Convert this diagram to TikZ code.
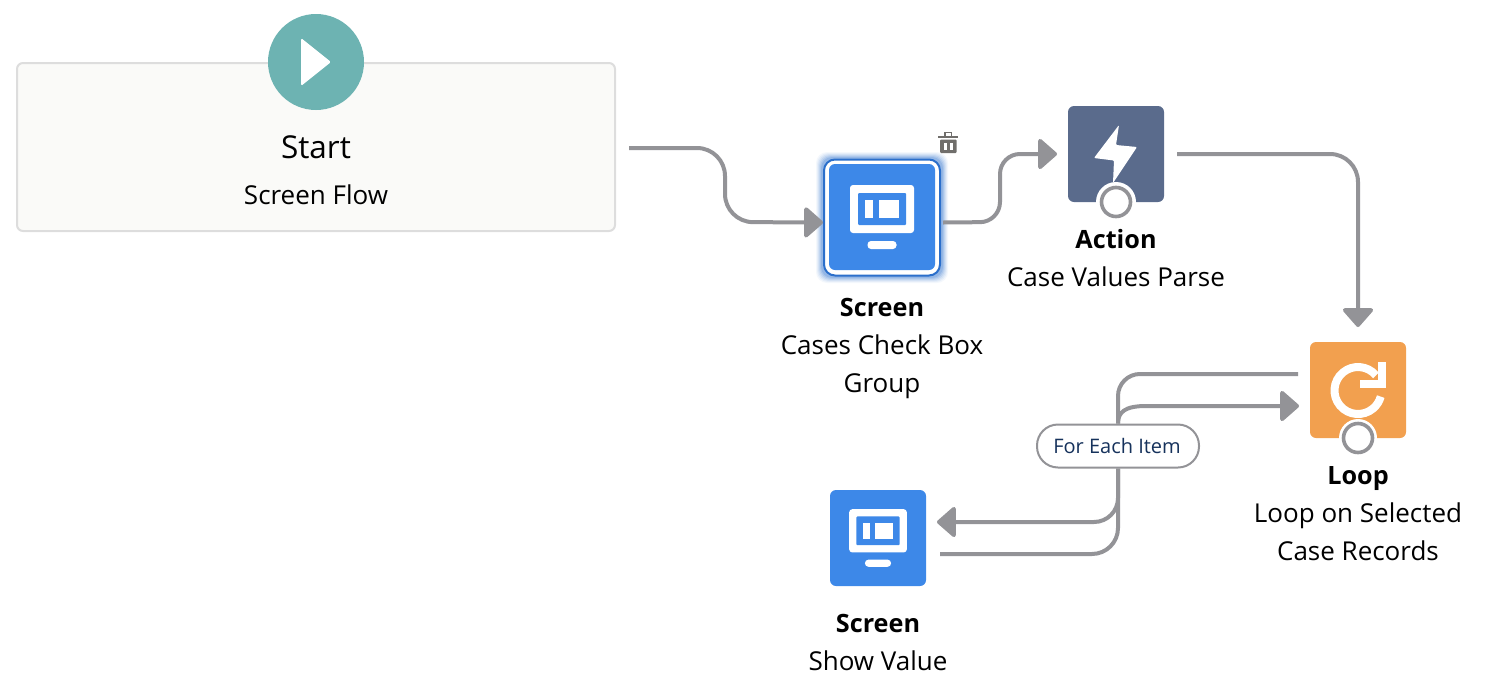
\documentclass[tikz,border=0pt]{standalone}
\usepackage{fontspec}
\setmainfont{Open Sans}
\usetikzlibrary{arrows.meta}
\definecolor{linegray}{HTML}{939397}
\definecolor{bluefill}{HTML}{3D88E8}
\definecolor{blueedge}{HTML}{2B6FCB}
\definecolor{actionfill}{HTML}{5A6B8C}
\definecolor{loopfill}{HTML}{F2A04F}
\definecolor{startfill}{HTML}{6DB3B2}
\definecolor{panelfill}{HTML}{FAFAF8}
\definecolor{panelline}{HTML}{DDDDDD}
\definecolor{trashgray}{HTML}{706E6B}
\definecolor{pilltext}{HTML}{16325C}
\tikzset{
  x=1pt,y=-1pt,
  conn/.style={draw=linegray,line width=4pt},
  tipped/.style={conn,-{Triangle[length=20pt,width=34pt,round=false]}},
  element/.style={minimum width=96pt,minimum height=96pt,inner sep=0pt,outer sep=0pt,rounded corners=6pt},
  title/.style={anchor=base,inner sep=0pt,font=\fontsize{25.2}{25}\selectfont\bfseries,text=black},
  label/.style={anchor=base,inner sep=0pt,font=\fontsize{26}{26}\selectfont,text=black},
  ringnode/.style={circle,draw=linegray,line width=3.6pt,fill=white,minimum size=29pt,inner sep=0pt,outer sep=0pt},
  halo/.style={circle,fill=white,minimum size=40pt,inner sep=0pt,outer sep=0pt},
  pics/screenglyph/.style={code={
    \fill[white,rounded corners=3pt] (-32,-32) rectangle (32,16);
    \fill[bluefill,rounded corners=1pt] (-24,-24) rectangle (24,8);
    \fill[white] (-17,-17) rectangle (-9,1);
    \fill[white] (-3,-17) rectangle (17,1);
    \fill[white,rounded corners=3.5pt] (-14.5,24) rectangle (14.5,32);
  }}
}
\begin{document}
\begin{tikzpicture}
\useasboundingbox (0,0) rectangle (1500,686);
% start
\node[draw=panelline,line width=2pt,fill=panelfill,rounded corners=6pt,minimum width=598pt,minimum height=168pt,inner sep=0pt,outer sep=0pt] (startbox) at (316,147) {};
\node[circle,fill=startfill,minimum size=96pt,inner sep=0pt,outer sep=0pt] (startdot) at (316,62) {};
\fill[white,rounded corners=1.5pt] (301,38) -- (331,62) -- (301,86) -- cycle;
\node[anchor=base,inner sep=0pt,font=\fontsize{31.5}{31}\selectfont] (starttitle) at (316,158) {Start};
\node[label] (startsub) at (316,204) {Screen Flow};
% selected screen
\foreach \g/\o in {7/.05,6/.07,5/.09,4/.11,3/.14,2/.18}{
  \fill[blueedge,opacity=\o,rounded corners=11pt] (823-\g,159-\g) rectangle (941+\g,276+\g);
}
\node[draw=blueedge,line width=2pt,fill=white,minimum width=116pt,minimum height=116pt,inner sep=0pt,outer xsep=1pt,outer ysep=1pt,rounded corners=11pt] (screenone) at (882,217.5) {};
\node[fill=bluefill,minimum width=106pt,minimum height=106pt,inner sep=0pt,rounded corners=6pt] (screenonefill) at (882,217) {};
\pic[scale=1] at (882,217) {screenglyph};
\node[title] (screenonetitle) at (882,316) {Screen};
\node[label] (screenonea) at (882,354) {Cases Check Box};
\node[label] (screenoneb) at (882,392) {Group};
% trash
\fill[trashgray] (938,135.5) rectangle (958,138);
\draw[trashgray,line width=1.4pt] (945,135.5) -- (945,132.7) -- (951.5,132.7) -- (951.5,135.5);
\fill[trashgray,rounded corners=1pt] (940,139.5) rectangle (956.5,153);
\fill[white] (943.5,142.5) rectangle (946.5,150);
\fill[white] (949.5,142.5) rectangle (953,150);
% action
\node[element,fill=actionfill] (action) at (1116,154) {};
\fill[white,rounded corners=1pt] (1119,125) -- (1094,158) -- (1114,160.5) -- (1113,183) -- (1137,147) -- (1116,145) -- cycle;
\node[halo] (actionhalo) at (1116,202) {};
\node[ringnode] (actionring) at (1116,202) {};
\node[title] (actiontitle) at (1116,248) {Action};
\node[label] (actionsub) at (1116,286) {Case Values Parse};
% loop
\node[element,fill=loopfill] (loop) at (1358,390) {};
\draw[white,line width=8pt] (1376,375.4) arc[start angle=40,end angle=345,radius=23.5pt];
\fill[white] (1378,362) rectangle (1386,388);
\fill[white] (1360,380) rectangle (1386,388);
\node[halo,minimum size=38pt] (loophalo) at (1358,438) {};
\node[ringnode] (loopring) at (1358,438) {};
\node[title] (looptitle) at (1358,484) {Loop};
\node[label] (loopa) at (1358,522) {Loop on Selected};
\node[label] (loopb) at (1358,560) {Case Records};
% second screen
\node[element,fill=bluefill] (screentwo) at (878,538) {};
\pic[scale=0.9] at (878,538) {screenglyph};
\node[title] (screentwotitle) at (878,632) {Screen};
\node[label] (screentwosub) at (878,670) {Show Value};
% pill
\node[draw=linegray,line width=2pt,fill=white,rounded corners=21pt,minimum width=162pt,minimum height=43pt,inner sep=0pt,outer sep=1pt] (pill) at (1118,446) {};
\node[anchor=base,inner sep=0pt,text=pilltext,font=\fontsize{20}{20}\selectfont] (pilltextnode) at (1117,453) {For Each Item};
% connectors
\draw[tipped,rounded corners=28pt] ([xshift=14pt,yshift=-1pt]startbox.east) -- (725,148) -- (725,222) -- ([yshift=-5pt]screenone.west);
\draw[tipped,rounded corners=20pt] ([xshift=2pt,yshift=-5pt]screenone.east) -- (1000,222) -- (1000,154) -- ([xshift=-11pt]action.west);
\draw[tipped,rounded corners=28pt] ([xshift=13pt]action.east) -- (1358,154) -- ([yshift=15pt]loop.north);
\draw[conn,rounded corners=22pt] ([xshift=-12pt,yshift=16pt]loop.west) -- (1118,374) -- (pill.north);
\draw[tipped] (pill.north) .. controls (1118,412) and (1125,406) .. (1146,406) -- ([xshift=-11pt,yshift=-16pt]loop.west);
\draw[tipped,rounded corners=24pt] (pill.south) -- (1118,522) -- ([xshift=11pt,yshift=16pt]screentwo.east);
\draw[conn,rounded corners=26pt] (pill.south) -- (1118,554) -- ([xshift=14pt,yshift=-16pt]screentwo.east);
\end{tikzpicture}
\end{document}
